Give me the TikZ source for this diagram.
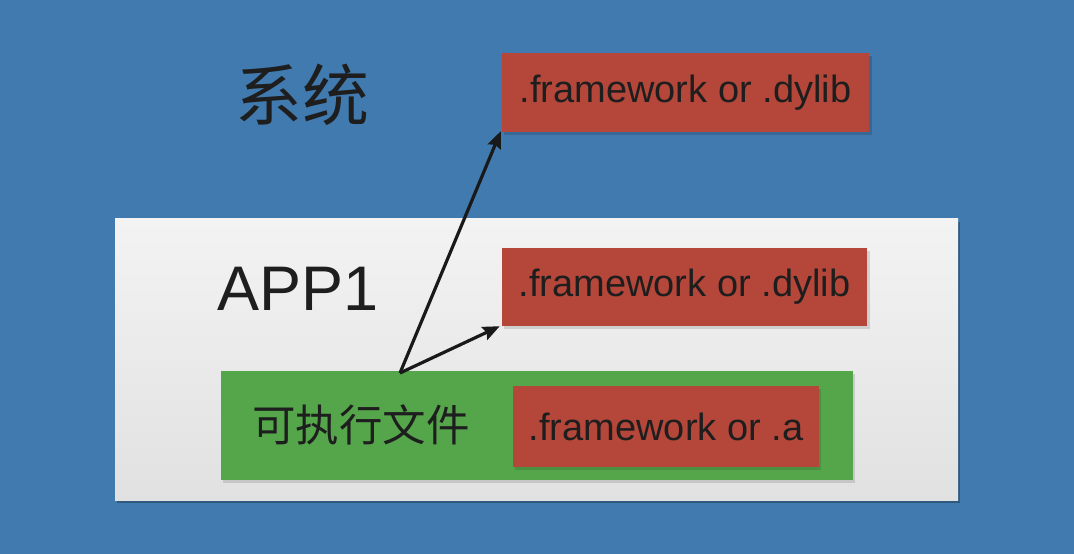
\documentclass[tikz,border=0pt]{standalone}
\usepackage{fontspec}
\setmainfont{Liberation Sans}
\newfontfamily\cjk{Noto Sans CJK SC}
\usetikzlibrary{arrows.meta}
\definecolor{bgblue}{HTML}{417AAE}
\definecolor{libred}{HTML}{B4473A}
\definecolor{exegreen}{HTML}{55A64B}
\definecolor{appwhite}{HTML}{EDEDED}
\definecolor{apptop}{HTML}{F3F3F3}
\definecolor{txt}{HTML}{1E1E1E}
\begin{document}
\begin{tikzpicture}[x=1pt,y=-1pt,
  libbox/.style={fill=libred, draw=none, inner sep=0pt, text=txt,
    font=\fontsize{38}{40}\selectfont},
  conn/.style={draw=black!90, line width=3.2pt, -{Stealth[length=17pt,width=14pt,inset=2.5pt]}}]
\fill[bgblue] (0,0) rectangle (1074,554);
\useasboundingbox (0,0) rectangle (1074,554);
% app box with shadow
\fill[black!45!bgblue, opacity=0.6] (117,222) rectangle (960,503);
\node[top color=apptop, bottom color=appwhite!95!black, minimum width=843pt, minimum height=282pt, inner sep=0pt] (app) at (536.5,359) {};
% labels
\node[text=txt, font=\cjk\fontsize{67}{70}\selectfont, inner sep=0pt] (sys) at (302,95) {系统};
\node[text=txt, font=\fontsize{63}{66}\selectfont, inner sep=0pt] (applbl) at (298,289) {APP1};
% shadows of red boxes
\fill[black, opacity=0.15] (504,56) rectangle (872,135);
\fill[black, opacity=0.12] (504,251) rectangle (870,329);
\node[libbox, minimum width=367pt, minimum height=79pt] (sysl) at (685.5,92.5) {.framework or .dylib};
\node[libbox, minimum width=365pt, minimum height=78pt] (appl) at (684.5,287) {.framework or .dylib};
% executable
\fill[black, opacity=0.12] (223,374) rectangle (855,483);
\node[fill=exegreen, minimum width=632pt, minimum height=109pt, inner sep=0pt] (exe) at (537,425.5) {};
\node[text=txt, font=\cjk\fontsize{43.5}{46}\selectfont, inner sep=0pt, anchor=west] (exelbl) at (252,425) {可执行文件};
\fill[black, opacity=0.12] (515,389) rectangle (821,470);
\node[libbox, minimum width=306pt, minimum height=81pt] (stat) at (666,426.5) {.framework or .a};
% connectors
\coordinate (src) at (400,373);
\draw[conn] (src) -- ([shift={(-1pt,1pt)}]sysl.south west);
\draw[conn] (src) -- ([shift={(-2pt,0pt)}]appl.south west);
\end{tikzpicture}
\end{document}
